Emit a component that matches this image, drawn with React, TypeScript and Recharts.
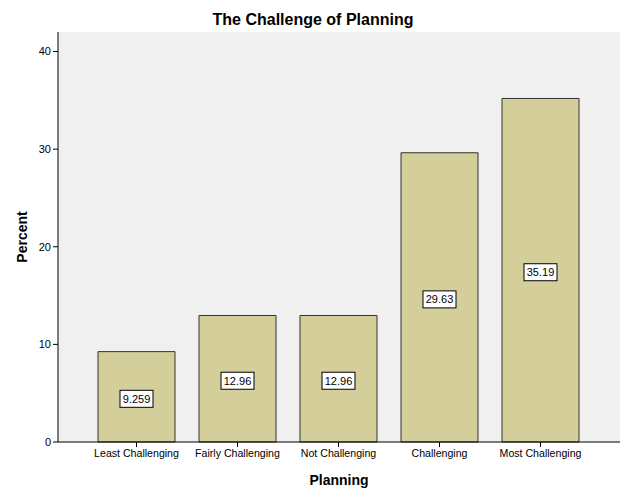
import React from 'react';
import { BarChart, Bar, XAxis, YAxis, CartesianGrid, LabelList } from 'recharts';

const categories = ['Least Challenging', 'Fairly Challenging', 'Not Challenging', 'Challenging', 'Most Challenging'];
const percents = [9.259, 12.96, 12.96, 29.63, 35.19];
const yTicks = [0, 10, 20, 30, 40];

const data = categories.map((c, i) => ({ name: c, value: percents[i] }));

const FONT = '"Liberation Sans", Arial, sans-serif';

const CenterLabel = (props: any) => {
  const { x, y, width, height, value } = props;
  const cx = x + width / 2;
  const cy = y + height / 2 + 2;
  const text = String(value);
  const w = text.length * 6.2 + 2;
  const h = 17;
  return (
    <g>
      <rect x={cx - w / 2} y={cy - h / 2} width={w} height={h} fill="#ffffff" stroke="#000000" strokeWidth={1} />
      <text x={cx} y={cy + 4} textAnchor="middle" fontFamily={FONT} fontSize={11} fill="#000">{text}</text>
    </g>
  );
};

export default function App() {
  return (
    <div style={{ position: 'absolute', left: 0, top: 0, width: 626, height: 501, background: '#fff' }}>
      <div style={{ position: 'absolute', left: 0, top: 11, width: 626, textAlign: 'center', fontFamily: FONT, fontWeight: 'bold', fontSize: 16, color: '#000' }}>
        The Challenge of Planning
      </div>
      <BarChart width={626} height={501} data={data} margin={{ top: 32, right: 6, bottom: 0, left: 0 }} barSize={77}>
        <CartesianGrid horizontal={false} vertical={false} fill="#f0f0f0" />
        <XAxis
          dataKey="name"
          height={59}
          padding={{ left: 28, right: 29 }}
          tickLine={{ stroke: '#000' }}
          axisLine={{ stroke: '#000' }}
          tickSize={5}
          interval={0}
          tick={{ fontFamily: FONT, fontSize: 10.6, fill: '#000' }}
          label={{ value: 'Planning', position: 'insideBottom', offset: 16, fontFamily: FONT, fontWeight: 'bold', fontSize: 14, fill: '#000' }}
        />
        <XAxis xAxisId="top" orientation="top" dataKey="name" height={0} tick={false} tickLine={false} axisLine={{ stroke: '#808080' }} />
        <YAxis
          width={58}
          domain={[0, 42]}
          ticks={yTicks}
          tickLine={{ stroke: '#000' }}
          axisLine={{ stroke: '#000' }}
          tickSize={5}
          tick={{ fontFamily: FONT, fontSize: 11, fill: '#000' }}
          label={{ value: 'Percent', angle: -90, position: 'insideLeft', offset: 22, fontFamily: FONT, fontWeight: 'bold', fontSize: 14, fill: '#000', style: { textAnchor: 'middle' } }}
        />
        <YAxis yAxisId="right" orientation="right" width={0} domain={[0, 42]} tick={false} tickLine={false} axisLine={{ stroke: '#808080' }} />
        <Bar dataKey="value" fill="#d3ce9a" stroke="#333333" strokeWidth={1} isAnimationActive={false}>
          <LabelList dataKey="value" content={CenterLabel} />
        </Bar>
      </BarChart>
    </div>
  );
}
